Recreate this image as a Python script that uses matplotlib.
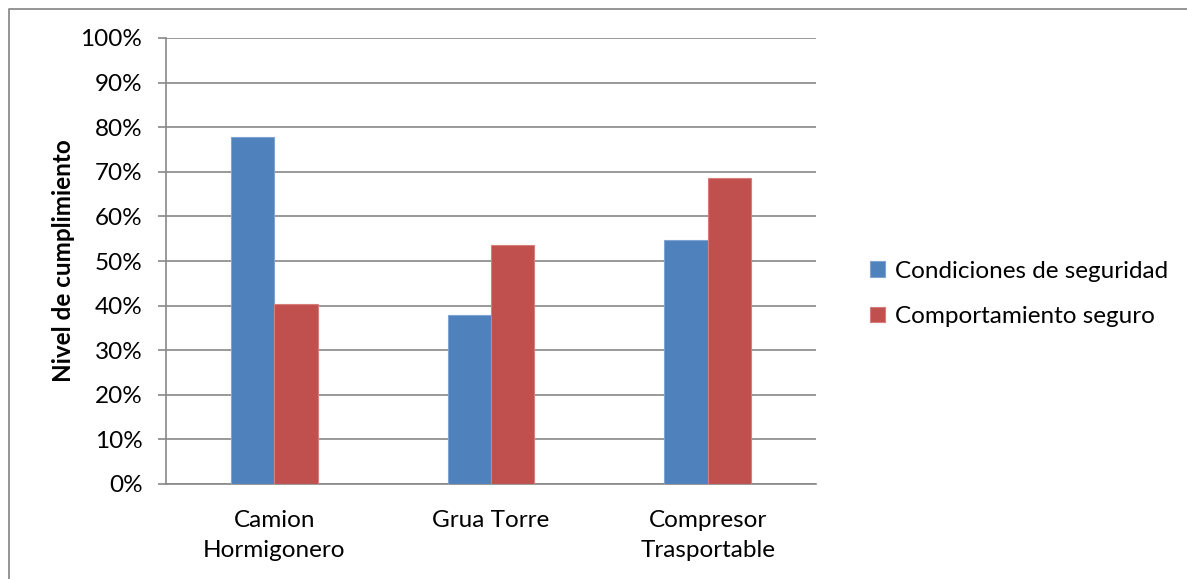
import matplotlib
matplotlib.use("Agg")
import matplotlib.pyplot as plt
import numpy as np
from matplotlib.ticker import PercentFormatter, FixedLocator
from matplotlib.lines import Line2D

categories = ["Camion\nHormigonero", "Grua Torre", "Compresor\nTrasportable"]
condiciones = [77.9, 38.0, 54.6]
comportamiento = [40.4, 53.5, 68.7]
series_names = ["Condiciones de seguridad", "Comportamiento seguro"]
colors = ["#4F81BD", "#C0504D"]
edge_colors = ["#7FA3D3", "#D77E7B"]

plt.rcParams["font.family"] = ["Lato", "DejaVu Sans"]

W, H = 1187, 579
fig = plt.figure(figsize=(W / 100, H / 100), dpi=100)
ax = fig.add_axes([166 / W, 1 - 484 / H, (816 - 166) / W, (484 - 38) / H])

x = np.arange(len(categories))
bw = 0.2
for i, (vals, name) in enumerate(zip([condiciones, comportamiento], series_names)):
    ax.bar(x + (i - 0.5) * bw, vals, bw, color=colors[i], edgecolor=edge_colors[i],
           linewidth=0.8, label=name, zorder=3)

ax.set_xlim(-0.5, len(categories) - 0.5)
ax.set_ylim(0, 100)
ax.yaxis.set_major_locator(FixedLocator(np.arange(0, 101, 10)))
ax.yaxis.set_major_formatter(PercentFormatter(decimals=0))
ax.grid(axis="y", color="#888888", linewidth=1.2, zorder=0)
ax.set_axisbelow(True)

for s in ["top", "right"]:
    ax.spines[s].set_visible(False)
ax.spines["left"].set_color("#888888")
ax.spines["bottom"].set_color("#888888")
ax.spines["left"].set_linewidth(1.2)
ax.spines["bottom"].set_linewidth(1.2)

ax.set_xticks(x)
ax.set_xticklabels(categories, fontsize=17.5, linespacing=1.5)
ax.tick_params(axis="x", length=0, pad=19)
ax.tick_params(axis="y", length=6, color="#888888", width=1.2, labelsize=17.5, pad=11)

ax.set_ylabel("Nivel de cumplimiento", fontsize=17.5, fontweight="bold", labelpad=4)

leg = fig.legend(loc="center left", bbox_to_anchor=(848 / W, 1 - 294 / H), frameon=False,
                 fontsize=17.5, handlelength=0.62, handleheight=0.62, handletextpad=0.4,
                 labelspacing=1.0)

# outer chart border (left and top edges)
bx, by = 8.5 / W, 1 - 8.5 / H
fig.add_artist(Line2D([bx, bx, 1.0], [0.0, by, by], transform=fig.transFigure,
                      color="#8c8c8c", linewidth=1.3))

fig.savefig("out.png", dpi=100)
